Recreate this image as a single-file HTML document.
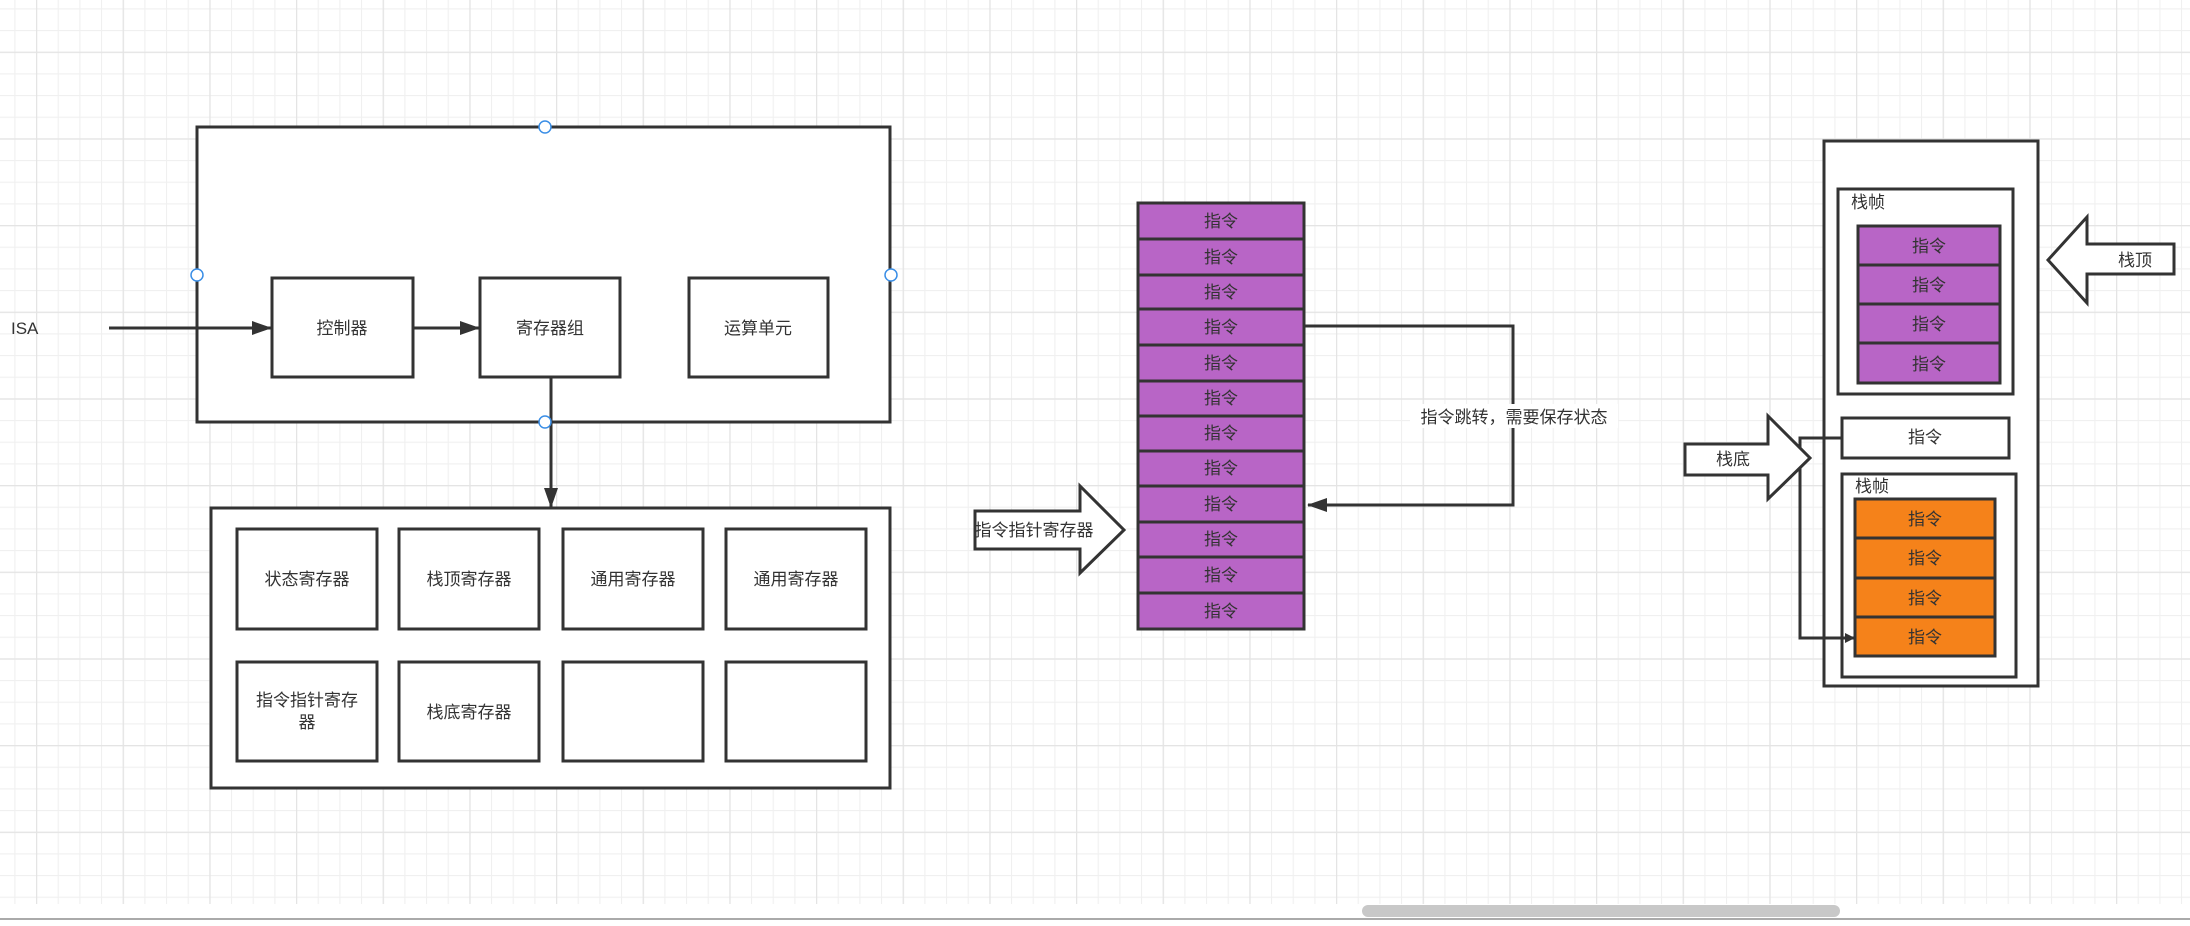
<!DOCTYPE html>
<html><head><meta charset="utf-8"><style>
html,body{margin:0;padding:0;background:#fff}
svg text{font-family:"Liberation Sans","Noto Sans CJK SC",sans-serif;font-size:17px;fill:#333}
</style></head><body>
<svg width="2190" height="921" xmlns="http://www.w3.org/2000/svg">
<defs>
<pattern id="minor" x="14.33" y="8.33" width="21.667" height="21.667" patternUnits="userSpaceOnUse">
<path d="M0 0.5H21.667M0.5 0V21.667" stroke="#f0f0f0" stroke-width="1.2" fill="none"/>
</pattern>
<pattern id="major" x="36" y="51.7" width="86.667" height="86.667" patternUnits="userSpaceOnUse">
<path d="M0 0.5H86.667M0.5 0V86.667" stroke="#e4e4e4" stroke-width="1.5" fill="none"/>
</pattern>
<marker id="ah" markerWidth="10" markerHeight="10" refX="9" refY="5" orient="auto" markerUnits="userSpaceOnUse"><path d="M0,0 L10,5 L0,10 z" fill="#333"/></marker>
<marker id="ahb" markerWidth="20" markerHeight="14" refX="19" refY="7" orient="auto" markerUnits="userSpaceOnUse"><path d="M0,0 L20,7 L0,14 z" fill="#333"/></marker>
</defs>
<rect width="2190" height="904" fill="url(#minor)"/>
<rect width="2190" height="904" fill="url(#major)"/>
<rect x="1362" y="905" width="478" height="12" rx="6" fill="#c8c8c8"/>
<line x1="0" y1="919" x2="2190" y2="919" stroke="#aaa" stroke-width="2"/>

<g fill="#fff" stroke="#333" stroke-width="3">
<rect x="197" y="127" width="693" height="295"/>
<rect x="272" y="278" width="141" height="99"/>
<rect x="480" y="278" width="140" height="99"/>
<rect x="689" y="278" width="139" height="99"/>
<rect x="211" y="508" width="679" height="280"/>
<rect x="237" y="529" width="140" height="100"/>
<rect x="399" y="529" width="140" height="100"/>
<rect x="563" y="529" width="140" height="100"/>
<rect x="726" y="529" width="140" height="100"/>
<rect x="237" y="662" width="140" height="99"/>
<rect x="399" y="662" width="140" height="99"/>
<rect x="563" y="662" width="140" height="99"/>
<rect x="726" y="662" width="140" height="99"/>
</g>
<g stroke="#333" stroke-width="3" fill="none">
<line x1="109" y1="328" x2="271" y2="328" marker-end="url(#ahb)"/>
<line x1="413" y1="328" x2="479" y2="328" marker-end="url(#ahb)"/>
<line x1="551" y1="377" x2="551" y2="507" marker-end="url(#ahb)"/>
</g>
<g fill="#fff" stroke="#3a8ee6" stroke-width="1.5">
<circle cx="545" cy="127" r="6"/><circle cx="197" cy="275" r="6"/><circle cx="891" cy="275" r="6"/><circle cx="545" cy="422" r="6"/>
</g>
<text x="11" y="334">ISA</text>
<g text-anchor="middle">
<text x="342" y="334">控制器</text>
<text x="550" y="334">寄存器组</text>
<text x="758" y="334">运算单元</text>
<text x="307" y="585">状态寄存器</text>
<text x="469" y="585">栈顶寄存器</text>
<text x="633" y="585">通用寄存器</text>
<text x="796" y="585">通用寄存器</text>
<text x="307" y="706">指令指针寄存</text>
<text x="307" y="728">器</text>
<text x="469" y="718">栈底寄存器</text>
</g>

<!-- middle stack -->
<g stroke="#333" stroke-width="3" fill="#b865c6">
<rect x="1138" y="203" width="166" height="36"/>
<rect x="1138" y="239" width="166" height="36"/>
<rect x="1138" y="275" width="166" height="34"/>
<rect x="1138" y="309" width="166" height="36"/>
<rect x="1138" y="345" width="166" height="36"/>
<rect x="1138" y="381" width="166" height="35"/>
<rect x="1138" y="416" width="166" height="35"/>
<rect x="1138" y="451" width="166" height="35"/>
<rect x="1138" y="486" width="166" height="36"/>
<rect x="1138" y="522" width="166" height="35"/>
<rect x="1138" y="557" width="166" height="36"/>
<rect x="1138" y="593" width="166" height="36"/>
</g>
<g text-anchor="middle">
<text x="1221" y="227">指令</text><text x="1221" y="263">指令</text><text x="1221" y="298">指令</text>
<text x="1221" y="333">指令</text><text x="1221" y="369">指令</text><text x="1221" y="404">指令</text>
<text x="1221" y="439">指令</text><text x="1221" y="474">指令</text><text x="1221" y="510">指令</text>
<text x="1221" y="545">指令</text><text x="1221" y="581">指令</text><text x="1221" y="617">指令</text>
</g>
<polyline points="1305,326 1513,326 1513,505 1308,505" stroke="#333" stroke-width="3" fill="none" marker-end="url(#ahb)"/>
<rect x="1410" y="404" width="208" height="24" fill="#fff"/>
<text x="1514" y="423" text-anchor="middle">指令跳转，需要保存状态</text>
<polygon points="975,511 1080,511 1080,486 1124,530 1080,573 1080,549 975,549" fill="#fff" stroke="#333" stroke-width="3"/>
<text x="1034" y="536" text-anchor="middle">指令指针寄存器</text>

<!-- right stack -->
<g stroke="#333" stroke-width="3" fill="#fff">
<rect x="1824" y="141" width="214" height="545"/>
<rect x="1838" y="189" width="175" height="205"/>
<rect x="1842" y="418" width="167" height="40"/>
<rect x="1842" y="474" width="174" height="203"/>
</g>
<g stroke="#333" stroke-width="3" fill="#b865c6">
<rect x="1858" y="226" width="142" height="39"/>
<rect x="1858" y="265" width="142" height="39"/>
<rect x="1858" y="304" width="142" height="39"/>
<rect x="1858" y="343" width="142" height="40"/>
</g>
<g stroke="#333" stroke-width="3" fill="#f5821a">
<rect x="1855" y="499" width="140" height="39"/>
<rect x="1855" y="538" width="140" height="40"/>
<rect x="1855" y="578" width="140" height="39"/>
<rect x="1855" y="617" width="140" height="39"/>
</g>
<text x="1851" y="208">栈帧</text>
<text x="1855" y="492">栈帧</text>
<g text-anchor="middle">
<text x="1929" y="252">指令</text><text x="1929" y="291">指令</text><text x="1929" y="330">指令</text><text x="1929" y="370">指令</text>
<text x="1925" y="443">指令</text>
<text x="1925" y="525">指令</text><text x="1925" y="564">指令</text><text x="1925" y="604">指令</text><text x="1925" y="643">指令</text>
</g>
<polyline points="1842,438 1800,438 1800,638 1854,638" stroke="#333" stroke-width="3" fill="none" marker-end="url(#ah)"/>
<polygon points="2174,244 2087,244 2087,217 2048,260 2087,303 2087,274 2174,274" fill="#fff" stroke="#333" stroke-width="3"/>
<text x="2135" y="266" text-anchor="middle">栈顶</text>
<polygon points="1685,444 1768,444 1768,416 1810,458 1768,499 1768,475 1685,475" fill="#fff" stroke="#333" stroke-width="3"/>
<text x="1733" y="465" text-anchor="middle">栈底</text>
</svg>
</body></html>
